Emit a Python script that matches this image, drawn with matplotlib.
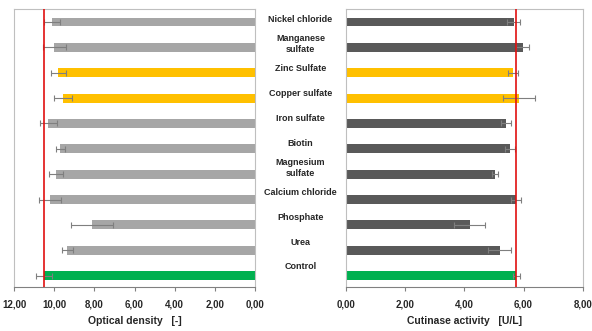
import matplotlib
matplotlib.use("Agg")
import matplotlib.pyplot as plt
import numpy as np

categories = ["Nickel chloride", "Manganese\nsulfate", "Zinc Sulfate", "Copper sulfate",
              "Iron sulfate", "Biotin", "Magnesium\nsulfate", "Calcium chloride",
              "Phosphate", "Urea", "Control"]
od_values = [10.11, 10.00, 9.79, 9.55, 10.29, 9.69, 9.91, 10.21, 8.13, 9.34, 10.52]
od_errors = [0.40, 0.58, 0.37, 0.45, 0.41, 0.22, 0.35, 0.53, 1.05, 0.26, 0.40]
cut_values = [5.67, 5.98, 5.63, 5.84, 5.40, 5.54, 5.03, 5.75, 4.18, 5.19, 5.75]
cut_errors = [0.22, 0.22, 0.17, 0.54, 0.16, 0.16, 0.10, 0.16, 0.53, 0.40, 0.12]
groups = ["other", "other", "metal", "metal", "other", "other", "other", "other",
          "other", "other", "control"]
od_ticks = [12, 10, 8, 6, 4, 2, 0]
cut_ticks = [0, 2, 4, 6, 8]

left_colors = {"other": "#A6A6A6", "metal": "#FFC000", "control": "#00B050"}
right_colors = {"other": "#595959", "metal": "#FFC000", "control": "#00B050"}

plt.rcParams['font.family'] = ['Liberation Sans', 'DejaVu Sans']
W, H = 592, 331
fig = plt.figure(figsize=(W / 100, H / 100), dpi=100)

axL = fig.add_axes([14 / W, 1 - 287 / H, (255 - 14) / W, (287 - 9.3) / H])
axR = fig.add_axes([346 / W, 1 - 287 / H, (582.7 - 346) / W, (287 - 9.3) / H])

y = np.arange(len(categories))
bh = 0.35
ekw = dict(ecolor="#7F7F7F", elinewidth=0.8, capsize=2, capthick=0.8)

axL.barh(y, od_values, height=bh, color=[left_colors[g] for g in groups],
         xerr=od_errors, error_kw=ekw, zorder=2)
axR.barh(y, cut_values, height=bh, color=[right_colors[g] for g in groups],
         xerr=cut_errors, error_kw=ekw, zorder=2)

axL.axvline(od_values[-1], color="#E01010", lw=1.2, zorder=3)
axR.axvline(cut_values[-1], color="#E01010", lw=1.2, zorder=3)

def fmt(v):
    return f"{v:.2f}".replace(".", ",")

for ax, ticks, lim, lab in [(axL, od_ticks, (12, 0), "Optical density   [-]"),
                            (axR, cut_ticks, (0, 8), "Cutinase activity   [U/L]")]:
    ax.set_xlim(*lim)
    ax.set_ylim(10.45, -0.5)
    ax.set_xticks(ticks)
    ax.set_xticklabels([fmt(t) for t in ticks], fontsize=7, fontweight="bold", color="#262626")
    ax.set_yticks([])
    ax.tick_params(axis="x", direction="out", length=3, width=0.8, color="#808080", pad=6)
    for s in ["top", "left", "right"]:
        ax.spines[s].set_color("#BFBFBF")
        ax.spines[s].set_linewidth(0.8)
    ax.spines["bottom"].set_color("#808080")
    ax.spines["bottom"].set_linewidth(0.8)
    ax.set_xlabel(lab, fontsize=7.5, fontweight="bold", color="#262626", labelpad=5)

# category labels centred between the panels
for i, name in enumerate(categories):
    ypos = i * 0.976 - 0.1
    yfig = fig.transFigure.inverted().transform(axL.transData.transform((0, ypos)))[1]
    fig.text(300.5 / W, yfig, name, ha="center", va="center", fontsize=6.5,
             fontweight="bold", color="#262626", linespacing=1.3)

fig.savefig("out.png", dpi=100)
